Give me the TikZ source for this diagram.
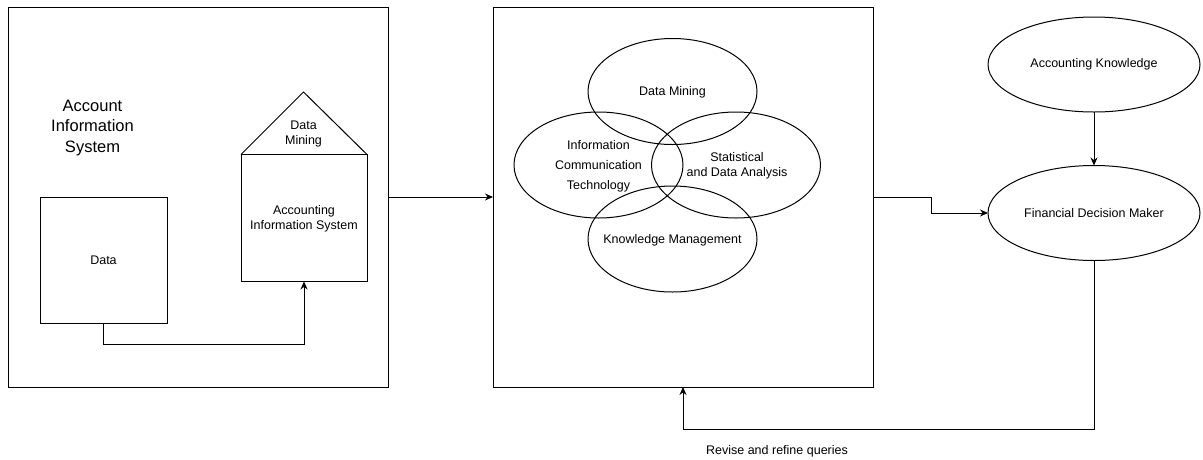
\documentclass[tikz,border=0pt]{standalone}
\usepackage{fontspec}
\setmainfont{Liberation Sans}
\usetikzlibrary{shapes.geometric,arrows.meta}

\begin{document}
\begin{tikzpicture}[x=1pt,y=-1pt,
  line width=1pt,
  every node/.style={inner sep=0pt, outer sep=0pt},
  txt/.style={font=\fontsize{12.5}{15}\selectfont, align=center},
  panel/.style={draw, rectangle, minimum width=380pt, minimum height=380pt},
  box/.style={draw, rectangle},
  oval/.style={draw, ellipse, minimum width=169pt, minimum height=106pt, txt},
  bigoval/.style={draw, ellipse, minimum width=212pt, minimum height=95pt, txt},
  arr/.style={-{Stealth[length=8pt,width=7pt]}}
]
\useasboundingbox (0,0) rectangle (1203,459);

% three panels of the process
\node[panel] (aisPanel) at (198,197) {};
\node[panel] (toolPanel) at (683,197) {};

% left panel: data feeding the accounting information system
\node[font=\fontsize{16.5}{20.5}\selectfont, align=center] (title) at (92.5,128) {Account\\Information\\System};
\node[box, minimum width=127pt, minimum height=126pt, txt] (data) at (103.5,260) {Data};
\node[box, minimum width=126pt, minimum height=127pt] (ais) at (304,218) {};
\node[txt] (aisText) at (304,219) {Accounting\\Information System};
\coordinate (roofL) at (241,154.5);
\coordinate (roofTop) at (303.5,92);
\coordinate (roofR) at (367,154.5);
\draw (roofL) -- (roofTop) -- (roofR);
\node[txt] (roofText) at (303.5,134) {Data\\Mining};
\coordinate (dataTurn) at (103.5,344);
\draw[arr] (data.south) -- (dataTurn) -| (ais.south);

% middle panel: overlapping disciplines
\node[oval] (dm)  at (672.5,91.5) {};
\node[oval] (ict) at (598.5,165) {};
\node[oval] (sda) at (736,165) {};
\node[oval] (km)  at (672.5,239) {};
\node[txt] at (672.5,92) {Data Mining};
\node[txt, font=\fontsize{12.5}{20}\selectfont] at (598.5,166) {Information\\Communication\\Technology};
\node[txt] at (737,166) {Statistical\\and Data Analysis};
\node[txt] at (672.5,240) {Knowledge Management};

\draw[arr] (aisPanel.east |- 0,197) -- (toolPanel.west |- 0,197);

% right side: decision making
\node[bigoval] (ak)  at (1094,64.5) {Accounting Knowledge};
\node[bigoval] (fdm) at (1094,213) {Financial Decision Maker};
\draw[arr] (ak) -- (fdm);

\coordinate (outA) at (931,197);
\coordinate (outB) at (931,213);
\draw[arr] (toolPanel.east |- 0,197) -- (outA) -- (outB) -- (fdm.west);

% feedback loop
\coordinate (fbR) at (1094,429);
\coordinate (fbL) at (683,429);
\draw[arr] (fdm.south) -- (fbR) -- (fbL) -- (toolPanel.south);
\node[txt] (fbText) at (777,451) {Revise and refine queries};
\end{tikzpicture}
\end{document}
